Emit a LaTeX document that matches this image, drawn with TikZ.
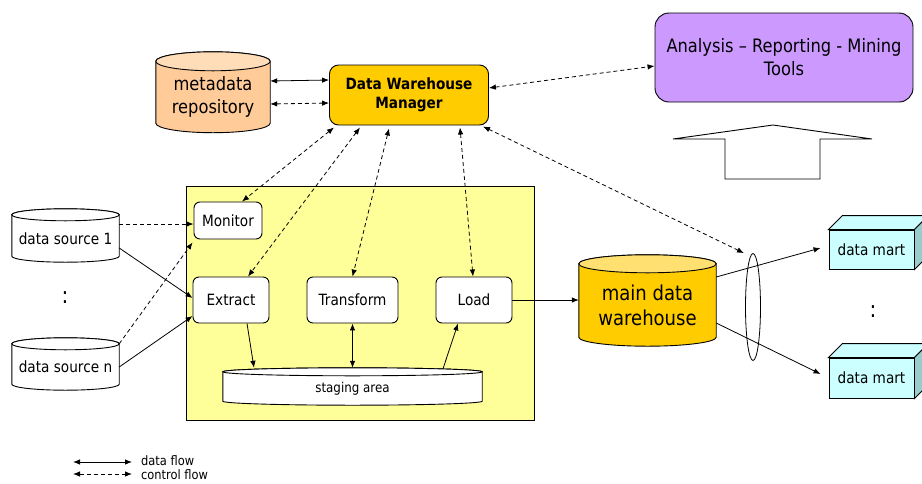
\documentclass[tikz,border=0pt]{standalone}
\usepackage{fontspec}
\setmainfont{DejaVu Sans}[FakeStretch=0.88]
\usetikzlibrary{arrows.meta,shapes.geometric,backgrounds,calc}

\definecolor{peach}{HTML}{FFCC99}
\definecolor{peachtop}{HTML}{FFDDB8}
\definecolor{gold}{HTML}{FFCC00}
\definecolor{goldtop}{HTML}{FFE070}
\definecolor{lilac}{HTML}{CC99FF}
\definecolor{paleyellow}{HTML}{FFFF99}
\definecolor{mart}{HTML}{CCFFFF}
\definecolor{martside}{HTML}{99CCCC}

% cylinder drawn round a node: the node's north edge is the centre line
% of the top ellipse, its south edge the lowest point of the bottom arc
\newcommand\cylshape[4]{% node, y radius (pt), body fill, top fill
  \path[draw, line width=0.9pt, fill=#3] let \p1=(#1.north west), \p2=(#1.south east),
      \n1={(\x2-\x1)/2} in
    (\x1,\y1) -- (\x1,\y2+#2pt)
    arc[start angle=180, end angle=360, x radius=\n1, y radius=#2pt]
    -- (\x2,\y1)
    arc[start angle=0, end angle=180, x radius=\n1, y radius=#2pt] -- cycle;
  \path[draw, line width=0.9pt, fill=#4] let \p1=(#1.north west), \p2=(#1.south east),
      \n1={(\x2-\x1)/2} in
    (\x1+\n1,\y1) ellipse[x radius=\n1, y radius=#2pt];
}

% top and side faces of a data mart box
\newcommand\martfaces[1]{%
  \path[draw, line width=0.9pt, fill=mart]
    (#1.north west) -- ++(14pt,14pt) -- ([shift={(14pt,14pt)}]#1.north east)
    -- (#1.north east) -- cycle;
  \path[draw, line width=0.9pt, fill=martside]
    (#1.north east) -- ++(14pt,14pt) -- ([shift={(14pt,14pt)}]#1.south east)
    -- (#1.south east) -- cycle;
}

\tikzset{
  >={Latex[length=7pt,width=5.5pt]},
  lbl/.style={font=\fontsize{15.5}{18}\selectfont},
  stepbox/.style={draw, line width=0.9pt, rounded corners=6pt, fill=white,
    inner sep=0pt, lbl},
  cyltext/.style={inner sep=0pt, align=center},
  flow/.style={line width=0.8pt},
  ctrl/.style={line width=0.8pt, dash pattern=on 4pt off 3pt},
  martbox/.style={draw, line width=0.9pt, fill=mart, minimum width=85pt,
    inner sep=0pt, font=\fontsize{15.5}{18}\selectfont},
  vdots/.style={font=\fontsize{23}{24}\selectfont, inner sep=0pt},
}

\begin{document}
\begin{tikzpicture}[x=1pt, y=-1pt]
\useasboundingbox (0,0) rectangle (922,483);

% repository and manager
\node[cyltext, minimum width=114pt, minimum height=71pt,
  font=\fontsize{18.5}{23}\selectfont] (meta) at (213,97) {metadata\\repository};
\node[draw, line width=0.9pt, fill=gold, rounded corners=9pt, minimum width=159pt,
  minimum height=60pt, inner sep=0pt, align=center,
  font=\bfseries\fontsize{15.5}{19}\selectfont] (mgr) at (409,95)
  {Data Warehouse\\Manager};

% analysis tools
\node[draw, line width=0.9pt, fill=lilac, rounded corners=14pt, minimum width=258pt,
  minimum height=89pt, inner sep=0pt, align=center,
  font=\fontsize{18.5}{23}\selectfont] (tools) at (784,57.5)
  {Analysis -- Reporting - Mining\\Tools};
\draw[line width=0.9pt, fill=white] (725,179) -- (725,139) -- (673,139) -- (773,125)
  -- (872,139) -- (820,139) -- (820,179) -- cycle;

% sources
\node[cyltext, lbl, minimum width=107pt, minimum height=47pt] (ds1) at (65.5,238.5)
  {data source 1};
\node[cyltext, lbl, minimum width=107pt, minimum height=46pt] (dsn) at (65.5,367)
  {data source n};
\node[vdots] (dots1) at (65,298) {:};

% ETL steps
\node[stepbox, minimum width=68pt, minimum height=37pt] (monitor) at (228,220.5) {Monitor};
\node[stepbox, minimum width=76pt, minimum height=46pt] (extract) at (231,300) {Extract};
\node[stepbox, minimum width=91pt, minimum height=46pt] (transform) at (352.5,300) {Transform};
\node[stepbox, minimum width=76pt, minimum height=46pt] (load) at (474,300) {Load};
\node[cyltext, font=\fontsize{13.5}{16}\selectfont, minimum width=259pt,
  minimum height=33pt] (staging) at (352.5,388.5) {staging area};

% warehouse and marts
\node[cyltext, font=\fontsize{20.5}{25}\selectfont, minimum width=137pt,
  minimum height=82pt] (dw) at (647.5,305) {main data\\warehouse};
\node[draw, line width=0.8pt, ellipse, minimum width=15pt, minimum height=107pt,
  inner sep=0pt] (lens) at (753,307) {};
\node[martbox, minimum height=39pt] (dm1) at (871.5,249.5) {data mart};
\node[martbox, minimum height=40pt] (dm2) at (871.5,378) {data mart};
\node[vdots] (dots2) at (873,312) {:};

\begin{scope}[on background layer]
  % ETL area
  \node[draw, line width=0.9pt, fill=paleyellow, minimum width=348pt,
    minimum height=234pt, inner sep=0pt] (etl) at (360,303) {};
  \cylshape{meta}{9.5}{peach}{peachtop}
  \cylshape{ds1}{6}{white}{white}
  \cylshape{dsn}{6}{white}{white}
  \cylshape{staging}{4}{white}{white}
  \cylshape{dw}{9}{gold}{goldtop}
\end{scope}
\martfaces{dm1}
\martfaces{dm2}

% manager links
\draw[flow, <->] ([yshift=16pt]meta.east) -- ([yshift=15pt]mgr.west);
\draw[ctrl, <->] ([yshift=-7pt]meta.east) -- ([yshift=-8pt]mgr.west);
\draw[ctrl, <->] ([yshift=7pt]mgr.east) -- ([yshift=-8.5pt]tools.west);
\draw[ctrl, <->] ([xshift=-75pt,yshift=-2pt]mgr.south) -- ([xshift=14pt]monitor.north);
\draw[ctrl, <->] ([xshift=-49pt,yshift=-2pt]mgr.south) -- ([xshift=17pt]extract.north);
\draw[ctrl, <->] ([xshift=-20pt,yshift=-3pt]mgr.south) -- (transform.north);
\draw[ctrl, <->] ([xshift=51pt,yshift=-2pt]mgr.south) -- ([xshift=-1pt]load.north);
\draw[ctrl, <->] ([xshift=74pt,yshift=-1pt]mgr.south) -- ([xshift=-9pt]lens.north);

% sources to ETL
\draw[ctrl, ->] ([yshift=14.5pt]ds1.east) -- ([yshift=-3.5pt]monitor.west);
\draw[ctrl, ->] (dsn.north east) -- ([xshift=-1pt,yshift=-3pt]monitor.south west);
\draw[flow, ->] ([yshift=-9.5pt]ds1.east) -- ([yshift=2pt]extract.west);
\draw[flow, ->] (dsn.east) -- ([yshift=-16pt]extract.west);

% inside ETL
\draw[flow, ->] ([xshift=16pt]extract.south) -- ([xshift=-98.5pt,yshift=4pt]staging.north);
\draw[flow, <->] (transform.south) -- ([yshift=4pt]staging.north);
\draw[flow, ->] ([xshift=90.5pt,yshift=3pt]staging.north) -- ([xshift=-16pt]load.south);

% warehouse
\draw[flow, ->] (load.east) -- ([yshift=5pt]dw.west);
\draw[flow, ->] ([yshift=28pt]dw.east) -- ([xshift=-8pt,yshift=1.5pt]dm1.west);
\draw[flow, ->] ([yshift=-18pt]dw.east) -- ([xshift=-8pt,yshift=4pt]dm2.west);

% legend
\coordinate (lga) at (73,462);
\coordinate (lgb) at (132,462);
\coordinate (lgc) at (73,474);
\coordinate (lgd) at (132,474);
\draw[flow, <->] (lga) -- (lgb);
\draw[ctrl, <->] (lgc) -- (lgd);
\node[anchor=west, inner sep=0pt, font=\fontsize{13}{15}\selectfont] (lgt1) at (141,461) {data flow};
\node[anchor=west, inner sep=0pt, font=\fontsize{13}{15}\selectfont] (lgt2) at (141,475) {control flow};
\end{tikzpicture}
\end{document}
